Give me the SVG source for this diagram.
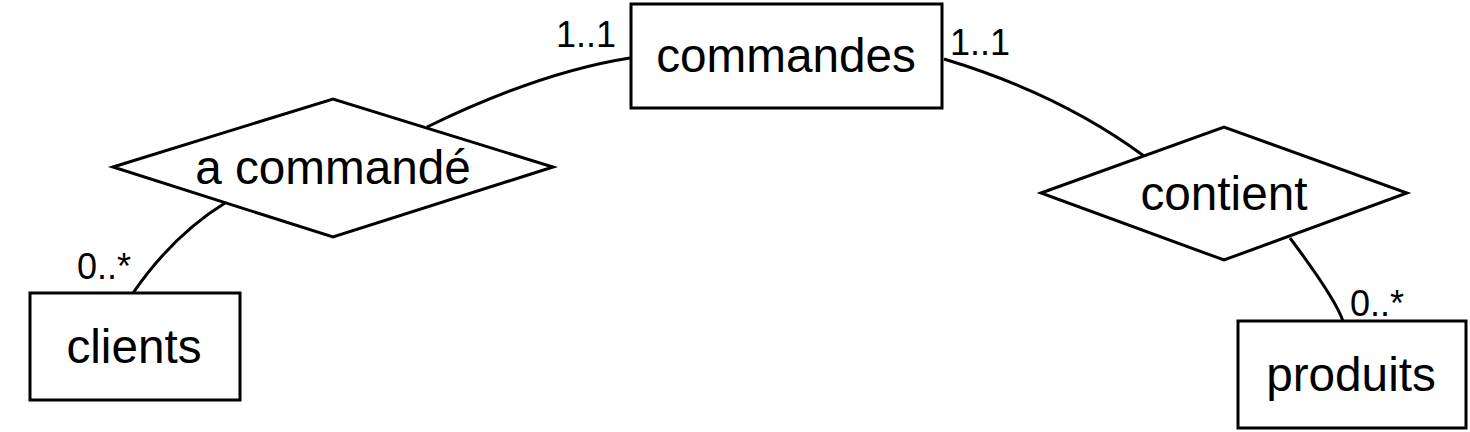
<svg xmlns="http://www.w3.org/2000/svg" width="1470" height="432" viewBox="0 0 1470 432">
<style>
.shape{fill:#fff;stroke:#000;stroke-width:3;stroke-linejoin:miter}
.link{fill:none;stroke:#000;stroke-width:3}
.name{font-family:"Liberation Sans",Arial,sans-serif;font-size:47.7px;fill:#000;text-anchor:middle}
.card{font-family:"Liberation Sans",Arial,sans-serif;font-size:36px;fill:#000}
</style>
<rect width="1470" height="432" fill="#fff"/>
<g id="connectors">
<path class="link" d="M630,58 Q540,72 427,127"/>
<path class="link" d="M225,203 Q173,235 133,293"/>
<path class="link" d="M944,59 Q1060,94 1144,156"/>
<path class="link" d="M1290,238 Q1335,298 1343,321"/>
</g>
<g id="commandes">
<rect class="shape" x="631" y="4" width="311" height="104"/>
<text class="name" x="786" y="72">commandes</text>
</g>
<g id="a_commande">
<polygon class="shape" points="113,167 333,99 553,167 333,237"/>
<text class="name" x="333" y="184">a commandé</text>
</g>
<g id="contient">
<polygon class="shape" points="1041,193 1224,127 1407,193 1224,260"/>
<text class="name" x="1224" y="210">contient</text>
</g>
<g id="clients">
<rect class="shape" x="30" y="293" width="210" height="107"/>
<text class="name" x="134" y="363">clients</text>
</g>
<g id="produits">
<rect class="shape" x="1238" y="321" width="228" height="107"/>
<text class="name" x="1351" y="391">produits</text>
</g>
<g id="cardinalities">
<text class="card" x="556" y="47">1..1</text>
<text class="card" x="950" y="55">1..1</text>
<text class="card" x="77" y="279">0..*</text>
<text class="card" x="1350" y="316">0..*</text>
</g>
</svg>
